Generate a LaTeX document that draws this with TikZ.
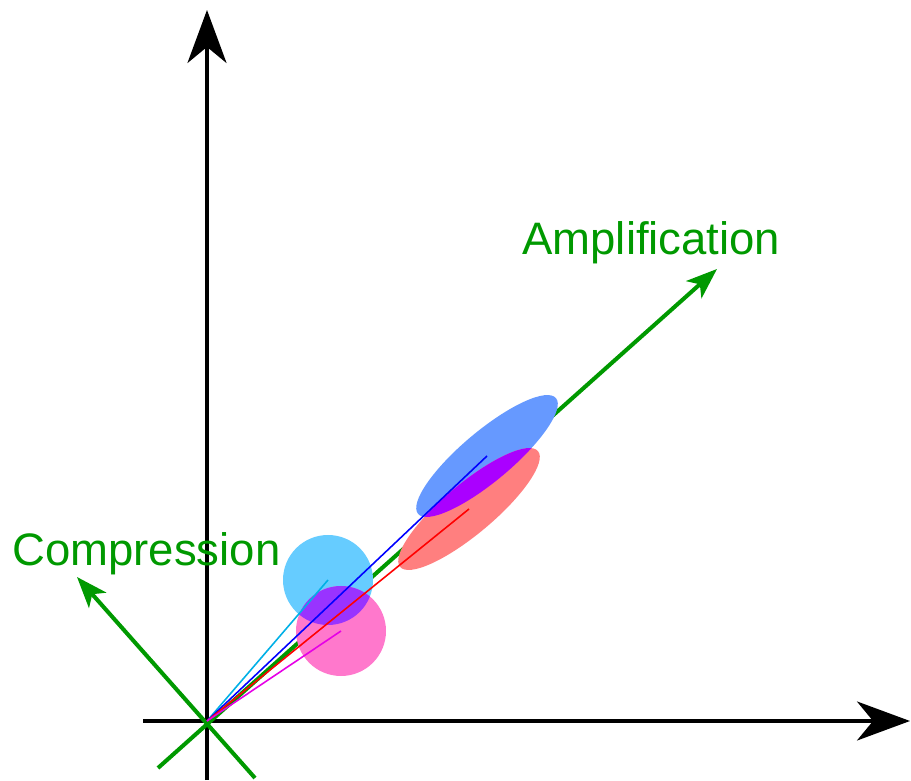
\documentclass[tikz,border=0pt]{standalone}
\usepackage{fontspec}
\setmainfont{Liberation Sans}
\usetikzlibrary{arrows.meta}
\definecolor{axisgreen}{HTML}{009900}
\definecolor{blobblue}{HTML}{6699FF}
\definecolor{blobred}{HTML}{FF7F7F}
\definecolor{blobcyan}{HTML}{66CCFF}
\definecolor{blobpink}{HTML}{FF78CC}
\definecolor{mixA}{HTML}{AA00FF}
\definecolor{mixB}{HTML}{9933FF}
\begin{document}
\begin{tikzpicture}[
  x=0.02cm,y=0.02cm,
  axis/.style={black, line width=2pt, -{Stealth[length=10.6mm,width=7.8mm,inset=3.2mm]}},
  gaxis/.style={axisgreen, line width=2.3pt, -{Stealth[length=6.2mm,width=4.6mm,inset=1.6mm]}},
  ray/.style={line width=0.9pt},
  lab/.style={axisgreen, font=\fontsize{25.9}{31}\selectfont, anchor=base west, inner sep=0pt}
]

\useasboundingbox (-207,-59) rectangle (704,721);

\def\ea{90}
\def\eb{25}
\def\er{45}

\coordinate (O) at (0,0);
\coordinate (cB) at (280,265);
\coordinate (cR) at (262,212);
\coordinate (cC) at (121,141);
\coordinate (cP) at (134,90);

\coordinate (ybot) at (0,-59);
\coordinate (ytop) at (0,711);
\coordinate (xleft) at (-64,0);
\coordinate (xright) at (703,0);
\coordinate (ampS) at (-49,-47);
\coordinate (ampE) at (510,452);
\coordinate (compS) at (48,-57);
\coordinate (compE) at (-130,144);

% axes
\draw[axis] (ybot) -- (ytop);
\draw[axis] (xleft) -- (xright);

% green directions
\draw[gaxis] (ampS) -- (ampE);
\draw[gaxis] (compS) -- (compE);

\node[lab] (amp) at (315,466) {Amplification};
\node[lab] (comp) at (-195,155) {Compression};

% blobs
\fill[blobblue, rotate around={40:(cB)}] (cB) ellipse [x radius=\ea, y radius=\eb];
\fill[blobred, rotate around={40:(cR)}] (cR) ellipse [x radius=\ea, y radius=\eb];
\begin{scope}
  \clip[rotate around={40:(cR)}] (cR) ellipse [x radius=\ea, y radius=\eb];
  \fill[mixA, rotate around={40:(cB)}] (cB) ellipse [x radius=\ea, y radius=\eb];
\end{scope}
\fill[blobcyan] (cC) circle [radius=\er];
\fill[blobpink] (cP) circle [radius=\er];
\begin{scope}
  \clip (cP) circle [radius=\er];
  \fill[mixB] (cC) circle [radius=\er];
\end{scope}

% rays to the centres
\foreach \c/\col in {cC/{rgb,255:red,0;green,176;blue,230},cB/blue,cR/red,cP/{rgb,255:red,230;green,0;blue,230}}{
  \draw[ray, color=\col] (O) -- (\c);
}

\end{tikzpicture}
\end{document}
